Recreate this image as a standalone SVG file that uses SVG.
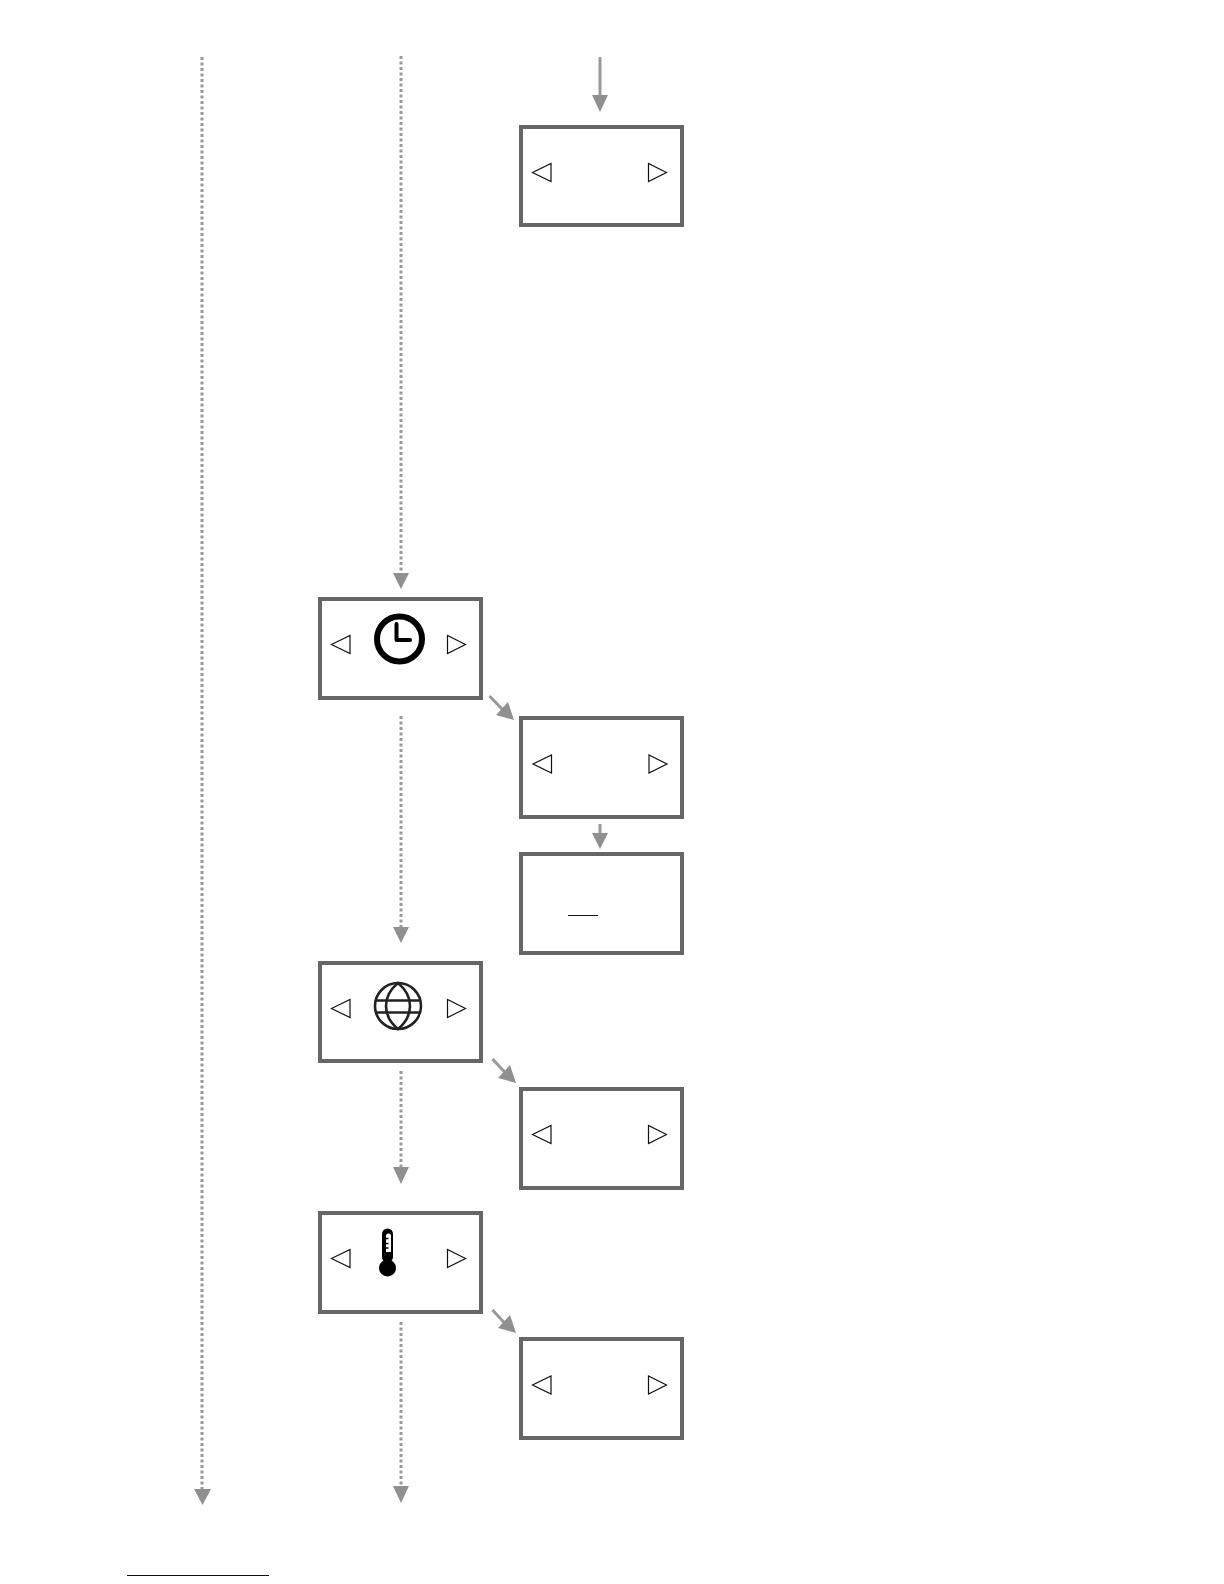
<svg xmlns="http://www.w3.org/2000/svg" width="1224" height="1584" viewBox="0 0 1224 1584">
<style>
.box{fill:#fff;stroke:#666;stroke-width:4}
.tri{fill:#fff;stroke:#111;stroke-width:1.200}
.solid{stroke:#999;stroke-width:3;fill:none}
.dot{stroke:#999;stroke-width:3;stroke-dasharray:3 2.500;fill:none}
.head{fill:#909090;stroke:none}
</style>
<defs>
<g id="arrows">
<polygon class="tri" points="-67.500,0 -49,-9 -49,9"/>
<polygon class="tri" points="66.500,0 48.500,-9 48.500,9"/>
</g>
</defs>
<rect width="1224" height="1584" fill="#fff"/>
<g id="connectors">
<line class="solid" x1="600" y1="57" x2="600" y2="96"/><polygon class="head" points="592,95 608,95 600,112"/>
<line class="dot" x1="202" y1="57" x2="202" y2="1489"/><polygon class="head" points="194,1489 211,1489 202.500,1505"/>
<line class="dot" x1="401" y1="56" x2="401" y2="573"/><polygon class="head" points="393,573 409,573 401,589"/>
<line class="dot" x1="401" y1="716" x2="401" y2="927"/><polygon class="head" points="393,927 409,927 401,943"/>
<line class="dot" x1="401" y1="1071" x2="401" y2="1167"/><polygon class="head" points="393,1167 409,1167 401,1184"/>
<line class="dot" x1="401" y1="1322" x2="401" y2="1487"/><polygon class="head" points="393,1486 409,1486 401,1503"/>
<line class="solid" x1="489.500" y1="696" x2="503" y2="710"/><polygon class="head" points="514,720 496,715 508,702"/>
<line class="solid" x1="600" y1="824" x2="600" y2="834"/><polygon class="head" points="592,833 608,833 600,849"/>
<line class="solid" x1="492.500" y1="1059" x2="505.500" y2="1073"/><polygon class="head" points="516,1083 498,1078 510,1065"/>
<line class="solid" x1="492.500" y1="1310" x2="505.500" y2="1324"/><polygon class="head" points="516,1333 498,1328 510,1315"/>
</g>
<g id="node-top"><rect class="box" x="521" y="127" width="161" height="98"/><use href="#arrows" x="600" y="172.500"/></g>
<g id="node-clock"><rect class="box" x="320" y="599" width="161" height="99"/><use href="#arrows" x="399" y="644.500"/>
<circle cx="399.500" cy="639" r="22.500" fill="#fff" stroke="#000" stroke-width="6"/>
<path d="M396.500,624V640H410" fill="none" stroke="#000" stroke-width="4" stroke-linecap="round" stroke-linejoin="round"/></g>
<g id="node-right-1"><rect class="box" x="521" y="718" width="161" height="99"/><use href="#arrows" x="600.500" y="764"/></g>
<g id="node-entry"><rect class="box" x="521" y="854" width="161" height="99"/><line x1="568" y1="915.500" x2="598" y2="915.500" stroke="#111" stroke-width="1"/></g>
<g id="node-globe"><rect class="box" x="320" y="963" width="161" height="98"/><use href="#arrows" x="399" y="1008.500"/>
<g fill="none" stroke="#222" stroke-width="2.600"><circle cx="398" cy="1006" r="23"/><path d="M398,983C382,996 382,1016 398,1029C414,1016 414,996 398,983Z"/><path d="M376,1000.500H420M376,1012.500H420"/></g></g>
<g id="node-right-2"><rect class="box" x="521" y="1089" width="161" height="99"/><use href="#arrows" x="600" y="1134.500"/></g>
<g id="node-thermo"><rect class="box" x="320" y="1213" width="161" height="99"/><use href="#arrows" x="399" y="1258.500"/>
<rect x="382" y="1228.500" width="11" height="34" rx="5.500" fill="#000"/><circle cx="387.500" cy="1268" r="8.500" fill="#000"/>
<path d="M386,1236a2.500,2.500 0 0 1 5,0V1252H386Z" fill="#fff"/>
<path d="M386,1238.500H388.500M386,1243.500H388.500M386,1248H388.500" stroke="#000" stroke-width="1.500"/></g>
<g id="node-right-3"><rect class="box" x="521" y="1339" width="161" height="99"/><use href="#arrows" x="600" y="1385"/></g>
<line id="footer-rule" x1="127" y1="1575.500" x2="269" y2="1575.500" stroke="#000080" stroke-width="1"/>
</svg>
